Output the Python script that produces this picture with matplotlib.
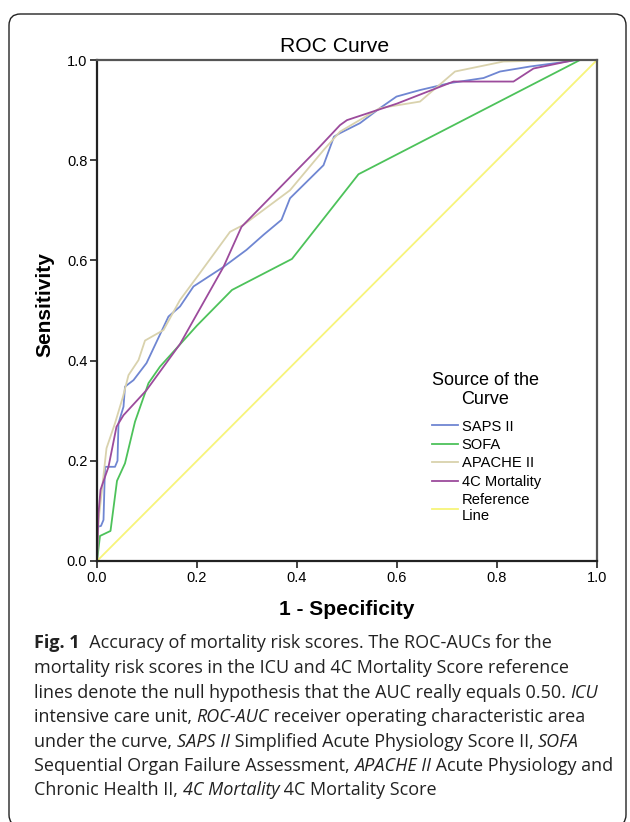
import matplotlib
matplotlib.use("Agg")
import matplotlib.pyplot as plt
from matplotlib.patches import FancyBboxPatch

W, H = 630, 822

# ROC curve points (1 - specificity, sensitivity)
saps_x = [0, 0, 0.008, 0.013, 0.016, 0.036, 0.041, 0.043, 0.053, 0.056, 0.073, 0.099,
          0.143, 0.166, 0.193, 0.253, 0.299, 0.333, 0.369, 0.386, 0.453, 0.474, 0.486,
          0.526, 0.566, 0.599, 0.646, 0.706, 0.773, 0.806, 0.866, 0.919, 0.96, 1.0]
saps_y = [0, 0.068, 0.07, 0.082, 0.188, 0.188, 0.2, 0.275, 0.308, 0.348, 0.361, 0.395,
          0.488, 0.508, 0.548, 0.587, 0.621, 0.651, 0.681, 0.724, 0.79, 0.847, 0.854,
          0.874, 0.904, 0.927, 0.94, 0.954, 0.964, 0.977, 0.987, 0.994, 1.0, 1.0]

sofa_x = [0, 0.006, 0.027, 0.04, 0.056, 0.076, 0.103, 0.126, 0.2, 0.27, 0.39, 0.523, 0.966, 1.0]
sofa_y = [0, 0.05, 0.06, 0.16, 0.195, 0.278, 0.355, 0.388, 0.47, 0.541, 0.603, 0.772, 1.0, 1.0]

apache_x = [0, 0.003, 0.019, 0.036, 0.052, 0.063, 0.083, 0.096, 0.133, 0.166, 0.206,
            0.266, 0.293, 0.386, 0.453, 0.486, 0.566, 0.646, 0.716, 0.813, 0.96, 1.0]
apache_y = [0, 0.08, 0.225, 0.275, 0.328, 0.371, 0.401, 0.44, 0.461, 0.521, 0.575,
            0.657, 0.671, 0.74, 0.82, 0.857, 0.904, 0.917, 0.977, 0.997, 1.0, 1.0]

c4_x = [0, 0.003, 0.007, 0.023, 0.039, 0.053, 0.099, 0.166, 0.253, 0.289, 0.439, 0.486,
        0.5, 0.6, 0.713, 0.833, 0.873, 0.955, 1.0]
c4_y = [0, 0.095, 0.142, 0.188, 0.268, 0.291, 0.341, 0.433, 0.587, 0.667, 0.82, 0.87,
        0.88, 0.913, 0.957, 0.957, 0.983, 1.0, 1.0]

ref_x = [0, 1]
ref_y = [0, 1]

labels = ["SAPS II", "SOFA", "APACHE II", "4C Mortality", "Reference\nLine"]
colors = ["#6f86d2", "#4dc25a", "#d9d2ad", "#9c4b9c", "#f7f47a"]

caption = [
    [("Fig. 1", "bold"), ("  Accuracy of mortality risk scores. The ROC-AUCs for the", "normal")],
    [("mortality risk scores in the ICU and 4C Mortality Score reference", "normal")],
    [("lines denote the null hypothesis that the AUC really equals 0.50. ", "normal"), ("ICU", "italic")],
    [("intensive care unit, ", "normal"), ("ROC-AUC", "italic"),
     (" receiver operating characteristic area", "normal")],
    [("under the curve, ", "normal"), ("SAPS II", "italic"),
     (" Simplified Acute Physiology Score II, ", "normal"), ("SOFA", "italic")],
    [("Sequential Organ Failure Assessment, ", "normal"), ("APACHE II", "italic"),
     (" Acute Physiology and", "normal")],
    [("Chronic Health II, ", "normal"), ("4C Mortality", "italic"), (" 4C Mortality Score", "normal")],
]

plt.rcParams["font.family"] = ["Liberation Sans", "DejaVu Sans"]

fig = plt.figure(figsize=(W / 100, H / 100), dpi=100)

# rounded frame around the figure panel
frame = FancyBboxPatch((9 / W, 1 - 826 / H), 617 / W, (826 - 14) / H,
                       boxstyle="round,pad=0,rounding_size=0.018",
                       transform=fig.transFigure, fill=False, edgecolor="#222222",
                       linewidth=1.0, mutation_aspect=W / H)
fig.patches.append(frame)

ax = fig.add_axes([97 / W, 1 - 561 / H, 500 / W, 501 / H])

series = [(saps_x, saps_y), (sofa_x, sofa_y), (apache_x, apache_y), (c4_x, c4_y), (ref_x, ref_y)]
for (xs, ys), lab, col in zip(series, labels, colors):
    ax.plot(xs, ys, color=col, linewidth=1.3, label=lab)

ax.set_xlim(0, 1)
ax.set_ylim(0, 1)
ax.set_xticks([0, 0.2, 0.4, 0.6, 0.8, 1.0])
ax.set_yticks([0, 0.2, 0.4, 0.6, 0.8, 1.0])
ax.set_xticklabels(["0.0", "0.2", "0.4", "0.6", "0.8", "1.0"])
ax.set_yticklabels(["0.0", "0.2", "0.4", "0.6", "0.8", "1.0"])
ax.tick_params(direction="out", length=5, width=1.2, labelsize=10.5, color="#222222", pad=2)
for side in ["left", "bottom"]:
    ax.spines[side].set_linewidth(1.6)
    ax.spines[side].set_color("#222222")
for side in ["top", "right"]:
    ax.spines[side].set_linewidth(1.6)
    ax.spines[side].set_color("#555555")

ax.set_title("ROC Curve", fontsize=15.2, x=0.476, pad=6)
ax.set_xlabel("1 - Specificity", fontsize=15, fontweight="bold", labelpad=11)
ax.set_ylabel("Sensitivity", fontsize=15, fontweight="bold")
ax.yaxis.set_label_coords(-0.085, 0.512)

leg = ax.legend(title="Source of the\nCurve", loc="upper left",
                bbox_to_anchor=(426 / W, 1 - 366 / H), bbox_transform=fig.transFigure,
                frameon=False, fontsize=10.6, title_fontsize=13, handlelength=1.75,
                handletextpad=0.27, labelspacing=0.3, borderaxespad=0)
leg._legend_box.align = "left"
leg._legend_box.sep = 8
leg.get_title().set_multialignment("center")

# caption with mixed styles, laid out segment by segment
renderer = fig.canvas.get_renderer()
cap_size = 13.0
cap_font = ["Open Sans", "DejaVu Sans"]


def seg_width(text, style):
    weight = "bold" if style == "bold" else "normal"
    fstyle = "italic" if style == "italic" else "normal"
    t1 = fig.text(0, 0, "|" + text + "|", fontsize=cap_size, family=cap_font,
                  fontweight=weight, fontstyle=fstyle)
    t2 = fig.text(0, 0, "||", fontsize=cap_size, family=cap_font,
                  fontweight=weight, fontstyle=fstyle)
    w = t1.get_window_extent(renderer).width - t2.get_window_extent(renderer).width
    t1.remove()
    t2.remove()
    return w


line_y = [643, 668, 693, 717, 742, 766, 790]
for segs, yy in zip(caption, line_y):
    xpos = 34
    for text, style in segs:
        weight = "bold" if style == "bold" else "normal"
        fstyle = "italic" if style == "italic" else "normal"
        fig.text(xpos / W, 1 - yy / H, text, fontsize=cap_size, family=cap_font,
                 fontweight=weight, fontstyle=fstyle, va="center", ha="left", color="#222222")
        xpos += seg_width(text, style)

fig.savefig("out.png", dpi=100)
